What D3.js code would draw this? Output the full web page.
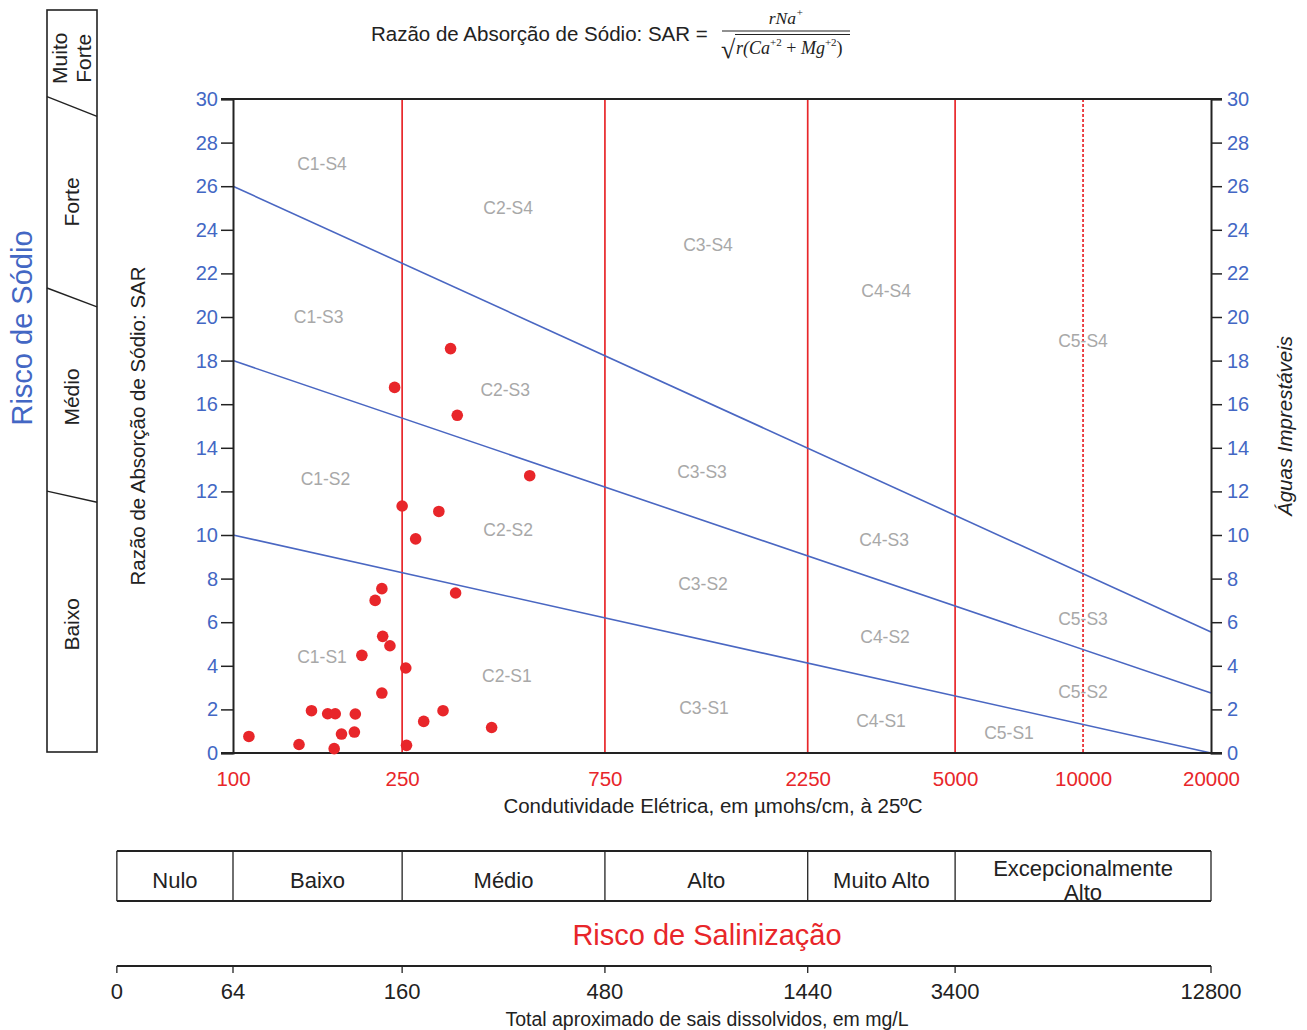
<!DOCTYPE html>
<html>
<head>
<meta charset="utf-8">
<script src="https://cdn.jsdelivr.net/npm/d3@7"></script>
<style>
  body { margin: 0; background: #fff; }
  svg { display: block; font-family: "Liberation Sans", Arial, sans-serif; }
</style>
</head>
<body>
<svg id="chart" width="1307" height="1030"></svg>
<script>
// --- data ---
const ecTicks = [100, 250, 750, 2250, 5000, 10000, 20000];
const sarTicks = [0, 2, 4, 6, 8, 10, 12, 14, 16, 18, 20, 22, 24, 26, 28, 30];
const salinityBounds = [250, 750, 2250, 5000];   // solid red lines
const dashedBounds = [10000];                      // dotted red line

// S1/S2, S2/S3, S3/S4 separation lines: [EC, SAR]
const sodiumLines = [
    [[100, 10], [20000, 0]],
    [[100, 18], [20000, 2.75]],
    [[100, 26], [20000, 5.55]]
];

const regionNames = ["C1-S4", "C2-S4", "C3-S4", "C4-S4", "C5-S4",
    "C1-S3", "C2-S3", "C3-S3", "C4-S3", "C5-S3",
    "C1-S2", "C2-S2", "C3-S2", "C4-S2", "C5-S2",
    "C1-S1", "C2-S1", "C3-S1", "C4-S1", "C5-S1"];
const regionEc = [162, 444, 1311, 3440, 10000,
    159, 437, 1269, 3404, 10000,
    165, 444, 1276, 3421, 10000,
    162, 441, 1283, 3347, 6697];
const regionSar = [27.0, 25.0, 23.3, 21.2, 18.9,
    20.0, 16.65, 12.9, 9.77, 6.15,
    12.57, 10.23, 7.75, 5.32, 2.8,
    4.4, 3.53, 2.06, 1.47, 0.92];

// samples
const sampleEc = [325, 240, 337, 499, 250, 305, 269, 224, 216, 334,
    225, 234, 201, 255, 224, 153, 167, 174, 194, 312,
    281, 406, 109, 143, 180, 193, 173, 256];
const sampleSar = [18.55, 16.77, 15.49, 12.72, 11.33, 11.08, 9.82, 7.54, 7.0, 7.34,
    5.35, 4.92, 4.48, 3.9, 2.75, 1.94, 1.8, 1.8, 1.79, 1.94,
    1.45, 1.17, 0.76, 0.39, 0.87, 0.96, 0.2, 0.35];

// sodium risk column (left)
const sodiumClasses = [["Baixo"], ["Médio"], ["Forte"], ["Muito", "Forte"]];
const sodiumLeftCuts = [10.55, 18.76, 26.5];
const sodiumRightCuts = [10.1, 18.0, 25.7];

// salinity risk table (bottom)
const salinityClasses = [["Nulo"], ["Baixo"], ["Médio"], ["Alto"], ["Muito Alto"], ["Excepcionalmente", "Alto"]];
const tableEdgesEc = [53.3, 100, 250, 750, 2250, 5000, 20000];
const tdsLabels = ["0", "64", "160", "480", "1440", "3400", "12800"];

// --- drawing ---
const svg = d3.select("#chart");
const BLUE = "#4367c4", LINEBLUE = "#4a67c2", RED = "#e8262a", INK = "#222";

const x = d3.scaleLog().domain([100, 20000]).range([233, 1211]);
const y = d3.scaleLinear().domain([0, 30]).range([753, 99]);
const colY = d3.scaleLinear().domain([0, 30]).range([752, 10]);

// title with formula
svg.append("text").attr("x", 371).attr("y", 41)
    .attr("font-size", 20.5).attr("fill", INK)
    .text("Razão de Absorção de Sódio: SAR =");
const serif = "'Liberation Serif', 'Times New Roman', serif";
const num = svg.append("text").attr("x", 786).attr("y", 24).attr("text-anchor", "middle")
    .attr("font-family", serif).attr("font-style", "italic").attr("font-size", 17.5).attr("fill", INK);
num.append("tspan").text("rNa");
num.append("tspan").attr("font-size", 11).attr("dy", -8).text("+");
svg.append("line").attr("x1", 722).attr("x2", 850).attr("y1", 31).attr("y2", 31)
    .attr("stroke", INK).attr("stroke-width", 1.2);
svg.append("line").attr("x1", 735).attr("x2", 850).attr("y1", 34.5).attr("y2", 34.5)
    .attr("stroke", INK).attr("stroke-width", 1.2);
svg.append("text").attr("x", 721).attr("y", 58).attr("font-family", serif)
    .attr("font-size", 26).attr("fill", INK).text("√");
const den = svg.append("text").attr("x", 736).attr("y", 54)
    .attr("font-family", serif).attr("font-style", "italic").attr("font-size", 18).attr("fill", INK);
den.append("tspan").text("r(Ca");
den.append("tspan").attr("font-size", 11).attr("dy", -8).attr("font-style", "normal").text("+2");
den.append("tspan").attr("dy", 8).attr("font-style", "normal").text(" + ");
den.append("tspan").text("Mg");
den.append("tspan").attr("font-size", 11).attr("dy", -8).attr("font-style", "normal").text("+2");
den.append("tspan").attr("dy", 8).attr("font-style", "normal").text(")");

// red class bounds
svg.append("g").selectAll("line").data(salinityBounds).join("line")
    .attr("x1", d => x(d)).attr("x2", d => x(d)).attr("y1", y(30)).attr("y2", y(0))
    .attr("stroke", RED).attr("stroke-width", 1.7);
svg.append("g").selectAll("line").data(dashedBounds).join("line")
    .attr("x1", d => x(d)).attr("x2", d => x(d)).attr("y1", y(30)).attr("y2", y(0))
    .attr("stroke", RED).attr("stroke-width", 1.7).attr("stroke-dasharray", "3,2");

// blue sodium lines
const line = d3.line().x(d => x(d[0])).y(d => y(d[1]));
svg.append("g").selectAll("path").data(sodiumLines).join("path")
    .attr("d", line).attr("fill", "none").attr("stroke", LINEBLUE).attr("stroke-width", 1.6);

// region labels
svg.append("g").selectAll("text").data(regionNames).join("text")
    .attr("x", (d, i) => x(regionEc[i])).attr("y", (d, i) => y(regionSar[i]))
    .attr("text-anchor", "middle").attr("dominant-baseline", "central")
    .attr("font-size", 17.5).attr("fill", "#a8a8a8").text(d => d);

// axes
const yLeft = svg.append("g").attr("transform", `translate(${x(100)},0)`)
    .call(d3.axisLeft(y).tickValues(sarTicks).tickSize(12).tickPadding(3));
const yRight = svg.append("g").attr("transform", `translate(${x(20000)},0)`)
    .call(d3.axisRight(y).tickValues(sarTicks).tickSize(11).tickPadding(5));
[yLeft, yRight].forEach(g => {
    g.select(".domain").attr("stroke", INK).attr("stroke-width", 2);
    g.selectAll(".tick line").attr("stroke", INK).attr("stroke-width", 1.5);
    g.selectAll(".tick text").attr("fill", BLUE).attr("font-size", 20)
        .attr("font-family", "'Liberation Sans', Arial, sans-serif");
});
const xBottom = svg.append("g").attr("transform", `translate(0,${y(0)})`)
    .call(d3.axisBottom(x).tickValues(ecTicks).tickFormat(d3.format("d")).tickSize(0).tickPadding(18));
xBottom.select(".domain").remove();
xBottom.selectAll(".tick text").attr("fill", RED).attr("font-size", 20.5)
    .attr("font-family", "'Liberation Sans', Arial, sans-serif");
// frame top & bottom
svg.append("g").selectAll("line").data([0, 30]).join("line")
    .attr("x1", x(100) - 12).attr("x2", x(20000) + 11).attr("y1", d => y(d)).attr("y2", d => y(d))
    .attr("stroke", INK).attr("stroke-width", 2);

// samples
svg.append("g").selectAll("circle").data(sampleEc).join("circle")
    .attr("cx", d => x(d)).attr("cy", (d, i) => y(sampleSar[i])).attr("r", 5.8)
    .attr("fill", RED);

// axis titles
svg.append("text").attr("x", 713).attr("y", 813).attr("text-anchor", "middle")
    .attr("font-size", 20.5).attr("fill", INK)
    .text("Condutividade Elétrica, em \u00b5mohs/cm, à 25ºC");
svg.append("text").attr("transform", "translate(137,426) rotate(-90)")
    .attr("text-anchor", "middle").attr("dominant-baseline", "central")
    .attr("font-size", 20.5).attr("fill", INK).text("Razão de Absorção de Sódio: SAR");
svg.append("text").attr("transform", "translate(1284,426) rotate(-90)")
    .attr("text-anchor", "middle").attr("dominant-baseline", "central")
    .attr("font-size", 20.5).attr("font-style", "italic").attr("fill", INK).text("Águas Imprestáveis");

// sodium risk column
svg.append("text").attr("transform", "translate(22,328) rotate(-90)")
    .attr("text-anchor", "middle").attr("dominant-baseline", "central")
    .attr("font-size", 29).attr("fill", BLUE).text("Risco de Sódio");
const colL = 47, colR = 97;
svg.append("rect").attr("x", colL).attr("y", colY(30)).attr("width", colR - colL)
    .attr("height", colY(0) - colY(30)).attr("fill", "none").attr("stroke", INK).attr("stroke-width", 1.6);
svg.append("g").selectAll("line").data(sodiumLeftCuts).join("line")
    .attr("x1", colL).attr("x2", colR)
    .attr("y1", d => colY(d)).attr("y2", (d, i) => colY(sodiumRightCuts[i]))
    .attr("stroke", INK).attr("stroke-width", 1.4);
const cuts = [0, ...sodiumLeftCuts.map((d, i) => (d + sodiumRightCuts[i]) / 2), 30];
sodiumClasses.forEach((lines, i) => {
    const cy = colY((cuts[i] + cuts[i + 1]) / 2);
    const t = svg.append("text").attr("transform", `translate(${(colL + colR) / 2},${cy}) rotate(-90)`)
        .attr("text-anchor", "middle").attr("font-size", 21).attr("fill", INK);
    lines.forEach((s, k) => {
        t.append("tspan").attr("x", 0)
            .attr("y", (k - (lines.length - 1) / 2) * 24 + 7).text(s);
    });
});

// salinity risk table
const tTop = 851, tBot = 901;
const edges = tableEdgesEc.map(d => x(d));
svg.append("g").selectAll("line").data([tTop, tBot]).join("line")
    .attr("x1", edges[0]).attr("x2", edges[edges.length - 1]).attr("y1", d => d).attr("y2", d => d)
    .attr("stroke", INK).attr("stroke-width", 2);
svg.append("g").selectAll("line").data(edges).join("line")
    .attr("x1", d => d).attr("x2", d => d).attr("y1", tTop).attr("y2", tBot)
    .attr("stroke", INK).attr("stroke-width", 1.3);
salinityClasses.forEach((lines, i) => {
    const cx = (edges[i] + edges[i + 1]) / 2;
    const t = svg.append("text").attr("text-anchor", "middle").attr("font-size", 22).attr("fill", INK);
    lines.forEach((s, k) => {
        t.append("tspan").attr("x", cx)
            .attr("y", 888 + (k - (lines.length - 1) / 2) * 24).text(s);
    });
});
svg.append("text").attr("x", 707).attr("y", 945).attr("text-anchor", "middle")
    .attr("font-size", 29).attr("fill", RED).text("Risco de Salinização");

// TDS axis
const tdsY = 966;
svg.append("line").attr("x1", edges[0]).attr("x2", edges[edges.length - 1])
    .attr("y1", tdsY).attr("y2", tdsY).attr("stroke", INK).attr("stroke-width", 2);
svg.append("g").selectAll("line").data(edges).join("line")
    .attr("x1", d => d).attr("x2", d => d).attr("y1", tdsY).attr("y2", tdsY + 7)
    .attr("stroke", INK).attr("stroke-width", 1.3);
svg.append("g").selectAll("text").data(tdsLabels).join("text")
    .attr("x", (d, i) => edges[i]).attr("y", 999).attr("text-anchor", "middle")
    .attr("font-size", 22).attr("fill", INK).text(d => d);
svg.append("text").attr("x", 707).attr("y", 1026).attr("text-anchor", "middle")
    .attr("font-size", 19.5).attr("fill", INK).text("Total aproximado de sais dissolvidos, em mg/L");
</script>
</body>
</html>
